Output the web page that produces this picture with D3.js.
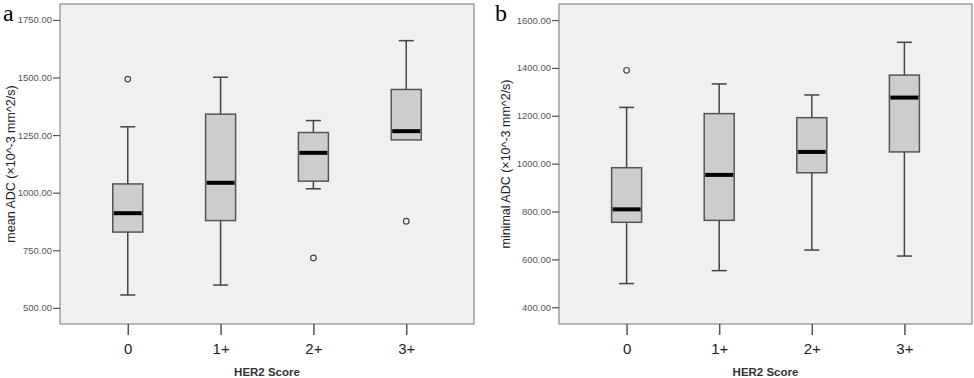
<!DOCTYPE html>
<html>
<head>
<meta charset="utf-8">
<script src="https://cdn.jsdelivr.net/npm/d3@7"></script>
<style>
  body { margin: 0; background: #fff; }
  svg { display: block; }
</style>
</head>
<body>
<script>
const categories = ["0", "1+", "2+", "3+"];

// panel a: mean ADC
const meanWhiskerLow = [556, 599, 1017, 1229];
const meanQ1 = [829, 879, 1050, 1229];
const meanMedian = [911, 1043, 1173, 1267];
const meanQ3 = [1038, 1341, 1261, 1448];
const meanWhiskerHigh = [1286, 1501, 1313, 1660];
const meanOutliers = [[1493], [], [717], [876]];
const meanTicks = [500, 750, 1000, 1250, 1500, 1750];

// panel b: minimal ADC
const minWhiskerLow = [499, 553, 639, 614];
const minQ1 = [755, 763, 962, 1049];
const minMedian = [809, 953, 1049, 1276];
const minQ3 = [983, 1209, 1192, 1370];
const minWhiskerHigh = [1235, 1333, 1287, 1507];
const minOutliers = [[1390], [], [], []];
const minTicks = [400, 600, 800, 1000, 1200, 1400, 1600];

const svg = d3.select("body").append("svg")
  .attr("width", 974)
  .attr("height", 378);

function drawPanel(opt) {
  const g = svg.append("g");
  const x = d3.scalePoint()
    .domain(categories)
    .range([opt.left, opt.right])
    .padding(0.73);
  const y = d3.scaleLinear()
    .domain(opt.domain)
    .range([324, 4]);

  g.append("rect")
    .attr("x", opt.left)
    .attr("y", 4)
    .attr("width", opt.right - opt.left)
    .attr("height", 320)
    .attr("fill", "#f0f0f0")
    .attr("stroke", "#8a8a8a")
    .attr("stroke-width", 1.2);

  // y axis
  const yAxis = g.append("g")
    .attr("transform", `translate(${opt.left},0)`)
    .call(d3.axisLeft(y).tickValues(opt.ticks).tickFormat(d3.format(".2f")).tickSize(7).tickPadding(1));
  yAxis.select(".domain").remove();
  yAxis.selectAll("line").attr("stroke", "#555").attr("stroke-width", 1.2);
  yAxis.selectAll("text")
    .attr("fill", "#555")
    .style("font", "9.5px 'Liberation Sans', Arial, sans-serif");

  // x axis
  const xAxis = g.append("g")
    .attr("transform", "translate(0,324)")
    .call(d3.axisBottom(x).tickSize(11).tickPadding(8));
  xAxis.select(".domain").remove();
  xAxis.selectAll("line").attr("stroke", "#555").attr("stroke-width", 1.5);
  xAxis.selectAll("text")
    .attr("fill", "#222")
    .style("font", "15px 'Liberation Sans', Arial, sans-serif");

  const cap = 15, bw = 30;
  const boxes = g.selectAll(".box")
    .data(categories)
    .join("g")
    .attr("class", "box");

  boxes.append("line")
    .attr("x1", d => x(d)).attr("x2", d => x(d))
    .attr("y1", (d, i) => y(opt.hi[i]))
    .attr("y2", (d, i) => y(opt.q3[i]))
    .attr("stroke", "#444").attr("stroke-width", 1.5);
  boxes.append("line")
    .attr("x1", d => x(d)).attr("x2", d => x(d))
    .attr("y1", (d, i) => y(opt.q1[i]))
    .attr("y2", (d, i) => y(opt.lo[i]))
    .attr("stroke", "#444").attr("stroke-width", 1.5);
  boxes.append("line")
    .attr("x1", d => x(d) - cap / 2).attr("x2", d => x(d) + cap / 2)
    .attr("y1", (d, i) => y(opt.hi[i]))
    .attr("y2", (d, i) => y(opt.hi[i]))
    .attr("stroke", "#444").attr("stroke-width", 1.5);
  boxes.filter((d, i) => opt.lo[i] < opt.q1[i])
    .append("line")
    .attr("x1", d => x(d) - cap / 2).attr("x2", d => x(d) + cap / 2)
    .attr("y1", d => y(opt.lo[categories.indexOf(d)]))
    .attr("y2", d => y(opt.lo[categories.indexOf(d)]))
    .attr("stroke", "#444").attr("stroke-width", 1.5);
  boxes.append("rect")
    .attr("x", d => x(d) - bw / 2)
    .attr("width", bw)
    .attr("y", (d, i) => y(opt.q3[i]))
    .attr("height", (d, i) => y(opt.q1[i]) - y(opt.q3[i]))
    .attr("fill", "#cdcdcd")
    .attr("stroke", "#555")
    .attr("stroke-width", 1.5);
  boxes.append("line")
    .attr("x1", d => x(d) - bw / 2 + 1).attr("x2", d => x(d) + bw / 2 - 1)
    .attr("y1", (d, i) => y(opt.med[i]))
    .attr("y2", (d, i) => y(opt.med[i]))
    .attr("stroke", "#000").attr("stroke-width", 4);

  const pts = categories.flatMap((c, i) => opt.out[i].map(v => ({ c, v })));
  g.selectAll(".outlier")
    .data(pts)
    .join("circle")
    .attr("class", "outlier")
    .attr("cx", d => x(d.c))
    .attr("cy", d => y(d.v))
    .attr("r", 2.8)
    .attr("fill", "#f4f4f4")
    .attr("stroke", "#444")
    .attr("stroke-width", 1.2);

  // titles
  g.append("text")
    .attr("transform", `translate(${opt.yLabelX},164) rotate(-90)`)
    .attr("text-anchor", "middle")
    .attr("fill", "#222")
    .style("font", "12.5px 'Liberation Sans', Arial, sans-serif")
    .text(opt.yLabel);
  g.append("text")
    .attr("x", (opt.left + opt.right) / 2)
    .attr("y", 376)
    .attr("text-anchor", "middle")
    .attr("fill", "#333")
    .style("font", "bold 11.5px 'Liberation Sans', Arial, sans-serif")
    .text("HER2 Score");
  g.append("text")
    .attr("x", opt.letterX)
    .attr("y", 21)
    .attr("fill", "#000")
    .style("font", "24px 'Liberation Serif', 'Times New Roman', serif")
    .text(opt.letter);
}

drawPanel({
  left: 60, right: 474, domain: [430, 1819], ticks: meanTicks,
  lo: meanWhiskerLow, q1: meanQ1, med: meanMedian, q3: meanQ3, hi: meanWhiskerHigh,
  out: meanOutliers, yLabel: "mean ADC (×10^-3 mm^2/s)", yLabelX: 15,
  letter: "a", letterX: 3
});

drawPanel({
  left: 559, right: 972, domain: [330, 1667], ticks: minTicks,
  lo: minWhiskerLow, q1: minQ1, med: minMedian, q3: minQ3, hi: minWhiskerHigh,
  out: minOutliers, yLabel: "minimal ADC (×10^-3 mm^2/s)", yLabelX: 510,
  letter: "b", letterX: 495
});
</script>
</body>
</html>
